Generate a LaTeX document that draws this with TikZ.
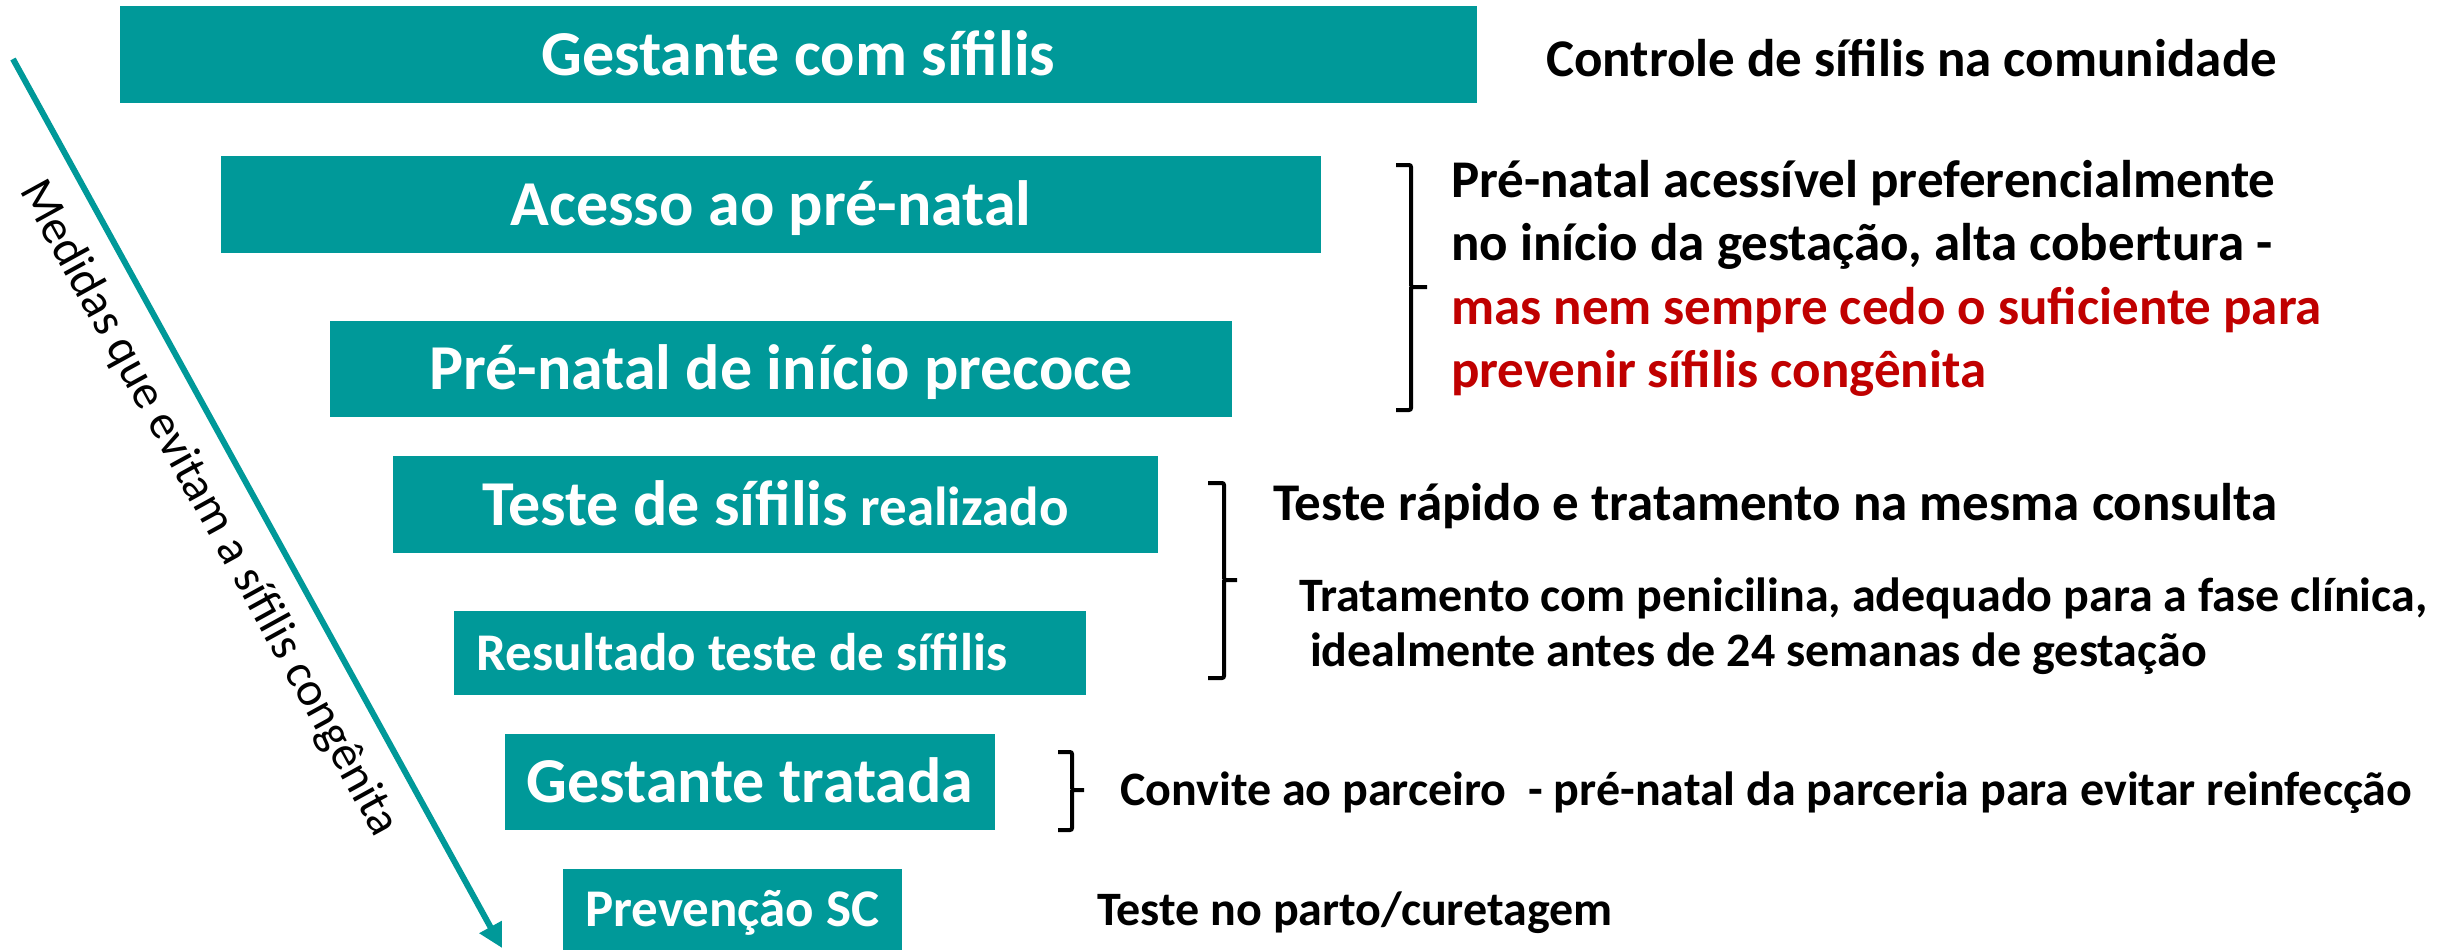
\documentclass[tikz,border=0pt]{standalone}
\usepackage{fontspec}
\setmainfont{Carlito}
\usetikzlibrary{arrows.meta,positioning}
\definecolor{scteal}{RGB}{0,153,153}
\definecolor{scred}{RGB}{192,0,0}
\newcommand{\scfs}[2]{\fontsize{#1}{#2}\selectfont}
\tikzset{
  scBox/.style={fill=scteal, text=white, inner sep=0pt, minimum height=97pt,
                font=\scfs{64}{64}\bfseries, text height=47.6pt, text depth=6.4pt},
  scBoxSmall/.style={scBox, font=\scfs{53}{53}\bfseries,
                     text height=39.4pt, text depth=5.3pt},
  scNote/.style={anchor=base west, inner sep=0pt, align=left,
                 font=\scfs{53}{63.5}\bfseries},
  scNoteSmall/.style={scNote, font=\scfs{48}{55}\bfseries},
  scBrace/.style={draw=black, line width=4pt, rounded corners=2pt},
  scArrow/.style={-{Triangle[length=24pt,width=24pt]}, line width=6pt, draw=scteal},
  scSide/.style={anchor=base west, inner sep=0pt, rotate=-61.2,
                 font=\scfs{48}{48}}
}

\begin{document}
\begin{tikzpicture}[x=1pt,y=-1pt]
  \useasboundingbox[fill=white] (0,0) rectangle (2440,950);

  % cascade of teal boxes
  \node[scBox, minimum width=1357pt] (pregnant) at (798.5,54.5) {Gestante com sífilis};
  \node[scBox, minimum width=1100pt] (access) at (771,204.5) {Acesso ao pré-natal};
  \node[scBox, minimum width=902pt, minimum height=96pt] (early) at (781,369) {Pré-natal de início precoce};
  \node[scBox, minimum width=765pt] (tested) at (775.5,504.5) {Teste de sífilis{\scfs{55}{55} realizado}};
  \node[scBoxSmall, minimum width=632pt, minimum height=84pt] (result) at (770,653)
        {Resultado teste de sífilis\hspace*{56pt}};
  \node[scBox, minimum width=490pt, minimum height=96pt] (treated) at (750,782) {Gestante tratada};
  \node[scBoxSmall, minimum width=339pt, minimum height=81pt] (prevent) at (732.5,909.5) {Prevenção SC};

  % diagonal arrow and its label
  \coordinate (arTop) at (13,59);
  \coordinate (arTip) at (502,948);
  \draw[scArrow] (arTop) -- (arTip);
  \node[scSide] (sideLabel) at (19,190) {Medidas que evitam a sífilis congênita};

  % notes on the right (base = last line)
  \node[scNote] (community) at (1546,77) {Controle de sífilis na comunidade};
  \node[scNote] (prenatalNote) at (1451,387.5)
        {Pré-natal acessível preferencialmente\\
         no início da gestação, alta cobertura -\\
         \textcolor{scred}{mas nem sempre cedo o suficiente para}\\
         \textcolor{scred}{prevenir sífilis congênita}};
  \node[scNote] (rapidNote) at (1273,520) {Teste rápido e tratamento na mesma consulta};
  \node[scNoteSmall] (penicillinNote) at (1299,666)
        {Tratamento com penicilina, adequado para a fase clínica,\\
         \ idealmente antes de 24 semanas de gestação};
  \node[scNoteSmall] (partnerNote) at (1120,805)
        {Convite ao parceiro\ \ - pré-natal da parceria para evitar reinfecção};
  \node[scNoteSmall] (deliveryNote) at (1097,925) {Teste no parto/curetagem};

  % brackets
  \draw[scBrace] (1396,165) -- (1411,165) -- (1411,287) -- (1427,287)
                 (1411,287) -- (1411,410) -- (1396,410);
  \draw[scBrace] (1208,483) -- (1224,483) -- (1224,580) -- (1237,580)
                 (1224,580) -- (1224,678) -- (1208,678);
  \draw[scBrace] (1058,752) -- (1072,752) -- (1072,790) -- (1084,790)
                 (1072,790) -- (1072,830) -- (1058,830);
\end{tikzpicture}
\end{document}
